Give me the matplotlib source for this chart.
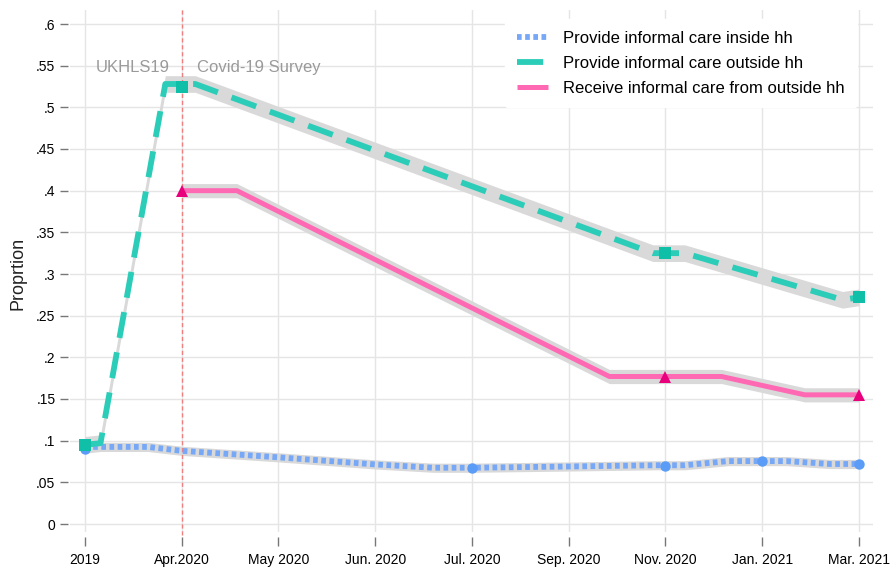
import matplotlib
matplotlib.use("Agg")
import matplotlib.pyplot as plt

plt.rcParams["font.family"] = ["Liberation Sans", "DejaVu Sans"]

# Data
wave_labels = ["2019", "Apr.2020", "May 2020", "Jun. 2020", "Jul. 2020",
               "Sep. 2020", "Nov. 2020", "Jan. 2021", "Mar. 2021"]
y_ticks = [0, 0.05, 0.1, 0.15, 0.2, 0.25, 0.3, 0.35, 0.4, 0.45, 0.5, 0.55, 0.6]
y_tick_labels = ["0", ".05", ".1", ".15", ".2", ".25", ".3", ".35", ".4",
                 ".45", ".5", ".55", ".6"]

# provide informal care inside hh
inside_x = [0, 4, 6, 7, 8]
inside_y = [0.090, 0.067, 0.070, 0.076, 0.072]
inside_path_x = [0, 0.65, 1, 2, 3, 3.6, 4, 5, 5.9, 6.2, 6.65, 7, 7.25, 7.7, 8]
inside_path_y = [0.0925, 0.0925, 0.0878, 0.080, 0.0715, 0.0675, 0.0675, 0.069,
                 0.0705, 0.0705, 0.0755, 0.0755, 0.0755, 0.072, 0.072]

# provide informal care outside hh
outside_x = [0, 1, 6, 8]
outside_y = [0.095, 0.525, 0.325, 0.272]
outside_path_x = [0, 0.16, 0.83, 1.14, 5.87, 6.2, 7.83, 8]
outside_path_y = [0.095, 0.097, 0.528, 0.528, 0.325, 0.325, 0.269, 0.272]

# receive informal care from outside hh
receive_x = [1, 6, 8]
receive_y = [0.400, 0.177, 0.155]
receive_path_x = [1, 1.57, 5.42, 6.58, 7.44, 8]
receive_path_y = [0.400, 0.400, 0.177, 0.177, 0.155, 0.155]

band_grey = "#d9d9d9"

W, H = 896, 571
fig = plt.figure(figsize=(W / 100, H / 100), dpi=100)
ax = fig.add_axes([70 / W, 1 - 532 / H, (873 - 70) / W, (532 - 10) / H])

# confidence bands
for px, py, hw in [(inside_path_x, inside_path_y, 0.0055),
                   (receive_path_x, receive_path_y, 0.0085),
                   (outside_path_x, outside_path_y, 0.010)]:
    ax.fill_between(px, [v - hw for v in py], [v + hw for v in py],
                    color=band_grey, lw=0, zorder=2)

ax.plot(inside_path_x, inside_path_y, color="#77a8f7", lw=4.2,
        dashes=(0.8, 0.6), dash_capstyle="butt", zorder=3,
        label="Provide informal care inside hh")
ax.plot(receive_path_x, receive_path_y, color="#ff69b4", lw=3.6,
        solid_capstyle="butt", zorder=3,
        label="Receive informal care from outside hh")
ax.plot(outside_path_x, outside_path_y, color="#2ccdb8", lw=4.2,
        dashes=(4.5, 2.5), dash_capstyle="butt", zorder=4,
        label="Provide informal care outside hh")

ax.plot(inside_x, inside_y, "o", color="#5b9cf6", ms=7.5, mew=0, zorder=5)
ax.plot(receive_x, receive_y, "^", color="#e8007d", ms=9, mew=0, zorder=5)
ax.plot(outside_x, outside_y, "s", color="#0fbfa8", ms=8, mew=0, zorder=6)

# survey split
ax.axvline(1, ymin=-0.005, color="#f08080", lw=1, dashes=(3, 2),
           zorder=2.5, clip_on=False)
ax.text(0.88, 0.548, "UKHLS19", ha="right", va="center", fontsize=12,
        color="#9a9a9a")
ax.text(1.16, 0.548, "Covid-19 Survey", ha="left", va="center", fontsize=12,
        color="#9a9a9a")

ax.set_xlim(-0.155, 8.145)
ax.set_ylim(-0.0096, 0.6168)
ax.set_xticks(range(len(wave_labels)))
ax.set_xticklabels(wave_labels, fontsize=12, color="#333333")
ax.set_yticks(y_ticks)
ax.set_yticklabels(y_tick_labels, fontsize=11.5, color="#333333")

for s in ax.spines.values():
    s.set_visible(False)
ax.spines["bottom"].set_position(("outward", 3.6))
ax.spines["left"].set_position(("outward", 1.5))
ax.tick_params(axis="x", length=6.5, width=1, color="#777777", pad=5)
ax.tick_params(axis="y", length=6, width=1, color="#777777", pad=3)
ax.grid(True, color="#e5e5e5", lw=1)
ax.set_axisbelow(True)

fig.text(18 / W, 1 - 273 / H, "Proprtion", rotation=90, ha="center",
         va="center", fontsize=13, color="#222222")

handles, labels = ax.get_legend_handles_labels()
order = [0, 2, 1]
leg = ax.legend([handles[i] for i in order], [labels[i] for i in order],
                loc="upper left", bbox_to_anchor=(505 / W, 1 - 19 / H),
                bbox_transform=fig.transFigure, borderaxespad=0,
                frameon=True, fontsize=12, handlelength=1.9,
                labelspacing=0.6, handletextpad=0.9, borderpad=0.7)
leg.get_frame().set_facecolor("white")
leg.get_frame().set_edgecolor("white")
leg.get_frame().set_alpha(1)
leg.set_zorder(10)

fig.savefig("out.png", dpi=100)
